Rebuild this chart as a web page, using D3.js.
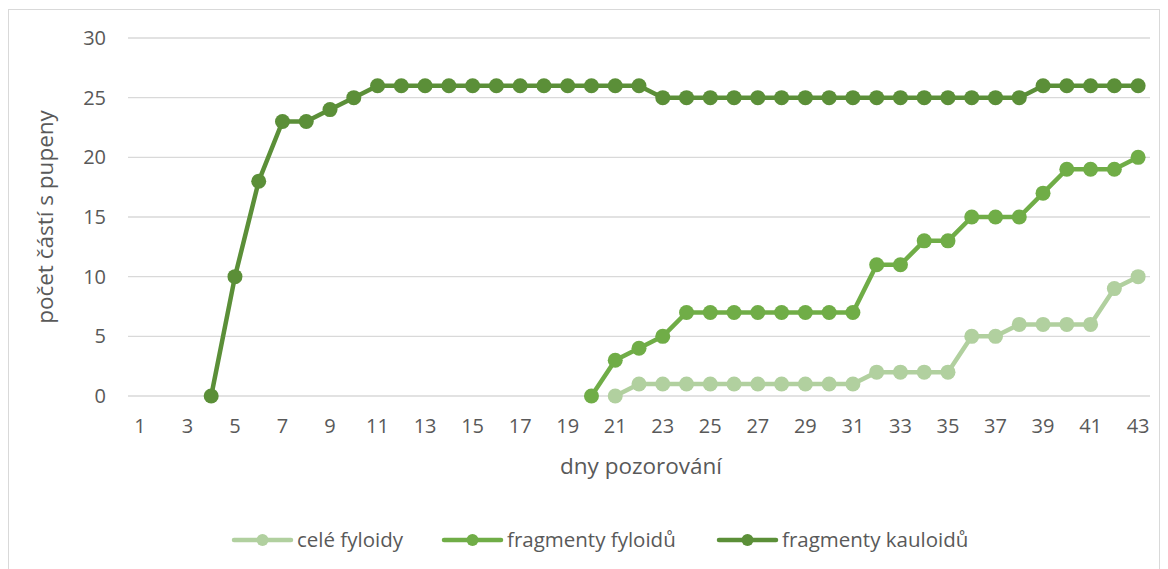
<!DOCTYPE html>
<html>
<head>
<meta charset="utf-8">
<script src="https://d3js.org/d3.v7.min.js"></script>
<style>
  body { margin: 0; background: #fff; }
  text { font-family: "Open Sans", "Noto Sans", sans-serif; fill: #595959; }
</style>
</head>
<body>
<div class="chart1"></div>
<script>
// days 1..43
const days = d3.range(1, 44);
const yTicks = [0, 5, 10, 15, 20, 25, 30];
const seriesNames = ['celé fyloidy', 'fragmenty fyloidů', 'fragmenty kauloidů'];
const seriesColors = ['#b1d09f', '#70ad47', '#5b8f38'];

// values per day (null = no observation)
const celeFyloidy = [
  null, null, null, null, null, null, null, null, null, null,
  null, null, null, null, null, null, null, null, null, null,
  0, 1, 1, 1, 1, 1, 1, 1, 1, 1,
  1, 2, 2, 2, 2, 5, 5, 6, 6, 6,
  6, 9, 10
];
const fragmentyFyloidu = [
  null, null, null, null, null, null, null, null, null, null,
  null, null, null, null, null, null, null, null, null, 0,
  3, 4, 5, 7, 7, 7, 7, 7, 7, 7,
  7, 11, 11, 13, 13, 15, 15, 15, 17, 19,
  19, 19, 20
];
const fragmentyKauloidu = [
  null, null, null, 0, 10, 18, 23, 23, 24, 25,
  26, 26, 26, 26, 26, 26, 26, 26, 26, 26,
  26, 26, 25, 25, 25, 25, 25, 25, 25, 25,
  25, 25, 25, 25, 25, 25, 25, 25, 26, 26,
  26, 26, 26
];
const seriesValues = [celeFyloidy, fragmentyFyloidu, fragmentyKauloidu];

const width = 1168, height = 569;
const svg = d3.select('.chart1').append('svg')
  .attr('width', width).attr('height', height);

// chart frame
svg.append('rect')
  .attr('x', 8.5).attr('y', 9.5)
  .attr('width', 1151).attr('height', 575)
  .attr('fill', 'none').attr('stroke', '#d9d9d9');

const x = d3.scalePoint().domain(days).range([128, 1150]).padding(0.5);
const y = d3.scaleLinear().domain([0, 30]).range([396, 38]);

// gridlines
svg.append('g').selectAll('line')
  .data(yTicks).enter().append('line')
  .attr('x1', 128).attr('x2', 1150)
  .attr('y1', d => y(d)).attr('y2', d => y(d))
  .attr('stroke', '#d9d9d9').attr('stroke-width', 1.3);

// y tick labels
svg.append('g').selectAll('text')
  .data(yTicks).enter().append('text')
  .attr('x', 106).attr('y', d => y(d))
  .attr('dy', '0.35em')
  .attr('text-anchor', 'end')
  .style('font-size', '20px')
  .text(d => d);

// x tick labels (every other day)
svg.append('g').selectAll('text')
  .data(days.filter(d => d % 2 === 1)).enter().append('text')
  .attr('x', d => x(d)).attr('y', 426)
  .attr('dy', '0.35em')
  .attr('text-anchor', 'middle')
  .style('font-size', '20px')
  .text(d => d);

// axis titles
svg.append('text')
  .attr('x', 641).attr('y', 466)
  .attr('dy', '0.35em')
  .attr('text-anchor', 'middle')
  .style('font-size', '22.5px')
  .text('dny pozorování');

svg.append('text')
  .attr('transform', 'translate(45,217) rotate(-90)')
  .attr('dy', '0.35em')
  .attr('text-anchor', 'middle')
  .style('font-size', '22.5px')
  .text('počet částí s pupeny');

// lines and markers
const line = d3.line()
  .defined(d => d.v !== null)
  .x(d => x(d.day))
  .y(d => y(d.v));

seriesValues.forEach(function(vals, i) {
  const pts = days.map((day, j) => ({ day: day, v: vals[j] }));
  const g = svg.append('g');
  g.append('path')
    .datum(pts)
    .attr('fill', 'none')
    .attr('stroke', seriesColors[i])
    .attr('stroke-width', 4.5)
    .attr('stroke-linejoin', 'round')
    .attr('d', line);
  g.selectAll('circle')
    .data(pts.filter(d => d.v !== null)).enter().append('circle')
    .attr('cx', d => x(d.day))
    .attr('cy', d => y(d.v))
    .attr('r', 7.5)
    .attr('fill', seriesColors[i]);
});

// legend
const legendX = [234, 444, 719];
const legend = svg.append('g');
seriesNames.forEach(function(name, i) {
  const lg = legend.append('g').attr('transform', 'translate(' + legendX[i] + ',540)');
  lg.append('line')
    .attr('x1', 0).attr('x2', 57)
    .attr('stroke', seriesColors[i])
    .attr('stroke-width', 4.5)
    .attr('stroke-linecap', 'round');
  lg.append('circle')
    .attr('cx', 28.5).attr('r', 6)
    .attr('fill', seriesColors[i]);
  lg.append('text')
    .attr('x', 63).attr('dy', '0.35em')
    .style('font-size', '20.5px')
    .text(name);
});
</script>
</body>
</html>
